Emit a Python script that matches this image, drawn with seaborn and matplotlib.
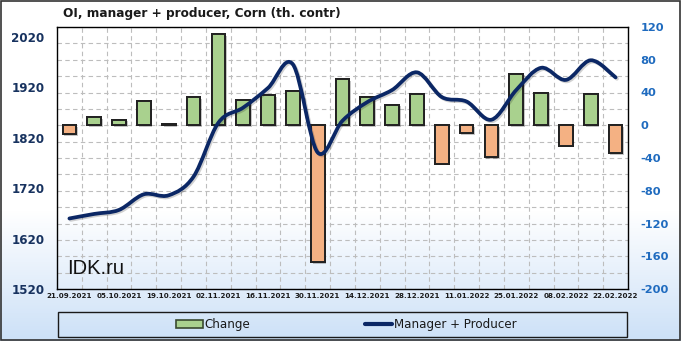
import numpy as np
import pandas as pd
import matplotlib
matplotlib.use("Agg")
import matplotlib.pyplot as plt
import seaborn as sns
from matplotlib.path import Path
from matplotlib.patches import PathPatch, Rectangle, Patch
from matplotlib.lines import Line2D
import matplotlib.patheffects as pe

# ---------------- data ----------------
dates = ['21.09.2021', '28.09.2021', '05.10.2021', '12.10.2021', '19.10.2021',
         '26.10.2021', '02.11.2021', '09.11.2021', '16.11.2021', '23.11.2021',
         '30.11.2021', '07.12.2021', '14.12.2021', '21.12.2021', '28.12.2021',
         '04.01.2022', '11.01.2022', '18.01.2022', '25.01.2022', '01.02.2022',
         '08.02.2022', '15.02.2022', '22.02.2022']
change = [-11, 10, 7, 30, 1.5, 34, 111, 31, 37, 42, -167, 56, 34, 25, 38,
          -47, -10, -39, 63, 40, -25, 38, -34]
manager_producer = [1660, 1669, 1677, 1708, 1706, 1743, 1850, 1880, 1919, 1966,
                    1791, 1854, 1891, 1915, 1950, 1901, 1892, 1856, 1915, 1959,
                    1935, 1974, 1940]
left_ticks = [1520, 1620, 1720, 1820, 1920, 2020]
right_ticks = [-200, -160, -120, -80, -40, 0, 40, 80, 120]
title = "OI, manager + producer, Corn (th. contr)"

GREEN = '#a9d18e'
ORANGE = '#f4b183'
EDGE = '#222222'
NAVY = '#0b2765'

df = pd.DataFrame({'date': dates, 'change': change, 'mp': manager_producer})

sns.set_theme(style='white')
plt.rcParams['font.family'] = ['DejaVu Sans']

fig = plt.figure(figsize=(6.81, 3.41), dpi=100)

# background gradient
bg = fig.add_axes([0, 0, 1, 1], zorder=-10)
n = 341
grad = np.ones((n, 1, 3))
top = np.array([1.0, 1.0, 1.0])
bot = np.array([0.80, 0.88, 0.97])
for r in range(n):
    t = max(0.0, (r - 210) / (n - 210))
    grad[r, 0, :] = top * (1 - t) + bot * t
bg.imshow(grad, aspect='auto', extent=[0, 1, 0, 1], origin='upper')
bg.set_axis_off()

L, R, T, B = 57, 628, 27, 289
ax = fig.add_axes([L / 681, 1 - B / 341, (R - L) / 681, (B - T) / 341])
ax.patch.set_visible(False)

colors = [GREEN if v >= 0 else ORANGE for v in change]
sns.barplot(data=df, x='date', y='change', hue='date', palette=colors,
            legend=False, width=0.55, ax=ax, edgecolor=EDGE, linewidth=1.4,
            saturation=1)
for p in ax.patches:
    p.set_path_effects([pe.withSimplePatchShadow(offset=(1.2, -1.2),
                                                  shadow_rgbFace='k', alpha=0.25),
                        pe.Normal()])

# line on left axis (twin)
ax2 = ax.twinx()

ax.set_ylim(-200, 120)
ax.set_xlim(-0.5, len(dates) - 0.5)
ax.yaxis.tick_right()
ax.set_yticks(right_ticks)
ax.set_yticks(np.arange(-200, 121, 20), minor=True)
ax.set_yticklabels([str(v) for v in right_ticks])
ax.set_xticks(np.arange(0, len(dates), 2))
ax.set_xticklabels(dates[::2], fontsize=5.1, fontweight='bold', color='#1a1a1a')
ax.set_xticks(np.arange(0.5, len(dates) - 1, 1), minor=True)
ax.tick_params(axis='y', which='both', length=0, pad=9, labelsize=8.2,
               labelcolor='#1f6bbf', labelleft=False, labelright=True)
for lab in ax.get_yticklabels():
    lab.set_fontweight('bold')
ax.tick_params(axis='x', which='both', length=0, pad=3)
ax.set_axisbelow(True)
ax.grid(False)
ax.grid(True, axis='y', which='both', color='#bdbdbd', linestyle=(0, (4, 3)), lw=0.8)
ax.grid(True, axis='x', which='minor', color='#bdbdbd', linestyle=(0, (4, 3)), lw=0.8)
ax.set_xlabel('')
ax.set_ylabel('')
for s in ax.spines.values():
    s.set_color('black')
    s.set_linewidth(1.0)

ax2.yaxis.tick_left()
ax2.set_ylim(1520, 2040)
ax2.set_yticks(left_ticks)
ax2.set_yticklabels([str(v) for v in left_ticks])
ax2.tick_params(axis='y', length=0, pad=9, labelsize=8.6, labelcolor='#17325f',
                labelleft=True, labelright=False)
for lab in ax2.get_yticklabels():
    lab.set_fontweight('bold')
ax2.grid(False)
for s in ax2.spines.values():
    s.set_visible(False)

xs = np.arange(len(manager_producer), dtype=float)
ys = np.array(manager_producer, dtype=float)
verts = [(xs[0], ys[0])]
codes = [Path.MOVETO]
N = len(xs)
for i in range(N - 1):
    p0 = np.array([xs[max(i - 1, 0)], ys[max(i - 1, 0)]])
    p1 = np.array([xs[i], ys[i]])
    p2 = np.array([xs[i + 1], ys[i + 1]])
    p3 = np.array([xs[min(i + 2, N - 1)], ys[min(i + 2, N - 1)]])
    c1 = p1 + (p2 - p0) / 6.0
    c2 = p2 - (p3 - p1) / 6.0
    verts += [tuple(c1), tuple(c2), tuple(p2)]
    codes += [Path.CURVE4] * 3
curve = PathPatch(Path(verts, codes), facecolor='none', edgecolor=NAVY,
                  lw=2.7, capstyle='round', joinstyle='round',
                  transform=ax2.transData, zorder=5)
curve.set_path_effects([pe.SimpleLineShadow(offset=(1, -1), alpha=0.2), pe.Normal()])
ax2.add_patch(curve)

# title & watermark
fig.text(63 / 681, 1 - 14 / 341, title, fontsize=8.7, fontweight='bold',
         ha='left', va='center', color='#1a1a1a')
fig.text(67 / 681, 1 - 268 / 341, 'IDK.ru', fontsize=14.5, ha='left', va='center',
         color='#111111', family=['Liberation Sans', 'DejaVu Sans'])

# legend box
fig.patches.append(Rectangle((58 / 681, 1 - 337 / 341), (627 - 58) / 681, 25 / 341,
                             transform=fig.transFigure, fill=False,
                             edgecolor='#1a1a1a', lw=1.0))
handles = [Patch(facecolor=GREEN, edgecolor='#3a4a30', lw=1.2),
           Line2D([0], [0], color=NAVY, lw=3)]
fig.legend(handles, ['Change', 'Manager + Producer'], loc='center',
           bbox_to_anchor=(346 / 681, 1 - 324.5 / 341), ncol=2, frameon=False,
           fontsize=8.6, handlelength=2.3, handleheight=0.6, handletextpad=0.1,
           columnspacing=9.6, labelcolor='#1a1a1a')

# outer border
fig.patches.append(Rectangle((0.001, 0.002), 0.997, 0.996, transform=fig.transFigure,
                             fill=False, edgecolor='#333333', lw=1.2))

fig.savefig('out.png', dpi=100)
